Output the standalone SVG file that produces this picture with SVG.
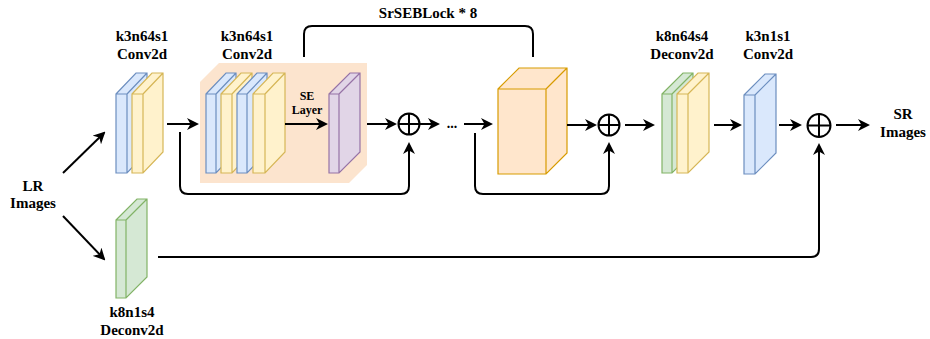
<svg xmlns="http://www.w3.org/2000/svg" width="930" height="339" viewBox="0 0 930 339">
<style>
.t{font-family:'Liberation Serif',serif;font-weight:bold;font-size:15px;fill:#000;text-anchor:middle}
.s{font-size:12px}
.c{fill:none;stroke:#000;stroke-width:2}
.blue{fill:#dae8fc;stroke:#6c8ebf;stroke-width:1.2}
.yel{fill:#fff2cc;stroke:#d6b656;stroke-width:1.2}
.grn{fill:#d5e8d4;stroke:#82b366;stroke-width:1.2}
.pur{fill:#e1d5e7;stroke:#9673a6;stroke-width:1.2}
.org{fill:#ffe6cc;stroke:#d79b00;stroke-width:1.2}
</style>
<defs>
<marker id="a" viewBox="0 0 12 12" refX="10" refY="6" markerWidth="12" markerHeight="12" markerUnits="userSpaceOnUse" orient="auto">
<path d="M0,0 L12,6 L0,12 L3.5,6 z" fill="#000"/>
</marker>
</defs>
<rect width="930" height="339" fill="#fff"/>

<g id="lr-label">
<text class="t" x="33" y="191">LR</text>
<text class="t" x="33" y="208">Images</text>
</g>

<g id="conv1">
<path class="blue" d="M116,94 L136,73 L147,73 L147,152 L127,173 L116,173 Z M116,94 L127,94 L127,173 M127,94 L147,73"/>
<path class="yel" d="M132,94 L152,73 L163,73 L163,152 L143,173 L132,173 Z M132,94 L143,94 L143,173 M143,94 L163,73"/>
<text class="t" x="142" y="40.5">k3n64s1</text>
<text class="t" x="142" y="58.5">Conv2d</text>
</g>

<g id="seblock">
<path d="M200,82 L219,63 L367,63 L367,165 L349,183 L200,183 Z" fill="#fce4ce"/>
<path class="blue" d="M206,94 L226,73 L236,73 L236,152 L216,173 L206,173 Z M206,94 L216,94 L216,173 M216,94 L236,73"/>
<path class="yel" d="M221,94 L241,73 L252,73 L252,152 L232,173 L221,173 Z M221,94 L232,94 L232,173 M232,94 L252,73"/>
<path class="blue" d="M237,94 L257,73 L267,73 L267,152 L247,173 L237,173 Z M237,94 L247,94 L247,173 M247,94 L267,73"/>
<path class="yel" d="M253,94 L273,73 L285,73 L285,152 L265,173 L253,173 Z M253,94 L265,94 L265,173 M265,94 L285,73"/>
<path class="pur" d="M329,94 L350,73 L360,73 L360,152 L339,173 L329,173 Z M329,94 L339,94 L339,173 M339,94 L360,73"/>
<text class="t" x="247" y="40.5">k3n64s1</text>
<text class="t" x="247" y="58.5">Conv2d</text>
<text class="t s" x="307" y="100">SE</text>
<text class="t s" x="307" y="114">Layer</text>
</g>

<g id="sum1">
<circle cx="409" cy="124" r="10.5" fill="#fff" stroke="#000" stroke-width="2"/>
<path d="M398.5,124 H419.5 M409,113.5 V134.5" stroke="#000" stroke-width="2"/>
</g>

<g id="dots">
<text class="t" x="452" y="128" style="font-size:14px">...</text>
</g>

<g id="cube">
<path class="org" d="M498,89 L519,68 L567,68 L567,153 L546,174 L498,174 Z M498,89 L546,89 L546,174 M546,89 L567,68"/>
<text class="t" x="428" y="18">SrSEBLock * 8</text>
</g>

<g id="sum2">
<circle cx="609" cy="125" r="10.5" fill="#fff" stroke="#000" stroke-width="2"/>
<path d="M598.5,125 H619.5 M609,114.5 V135.5" stroke="#000" stroke-width="2"/>
</g>

<g id="deconv">
<path class="grn" d="M662,94 L683,73 L693,73 L693,152 L672,173 L662,173 Z M662,94 L672,94 L672,173 M672,94 L693,73"/>
<path class="yel" d="M677,94 L698,73 L709,73 L709,152 L688,173 L677,173 Z M677,94 L688,94 L688,173 M688,94 L709,73"/>
<text class="t" x="682" y="40.5">k8n64s4</text>
<text class="t" x="682" y="59">Deconv2d</text>
</g>

<g id="conv-out">
<path class="blue" d="M744,95 L765,74 L776,74 L776,153 L755,174 L744,174 Z M744,95 L755,95 L755,174 M755,95 L776,74"/>
<text class="t" x="768" y="40.5">k3n1s1</text>
<text class="t" x="768" y="59">Conv2d</text>
</g>

<g id="sum3">
<circle cx="819" cy="125.5" r="11.5" fill="#fff" stroke="#000" stroke-width="2"/>
<path d="M807.5,125.5 H830.5 M819,114 V137" stroke="#000" stroke-width="2"/>
</g>

<g id="sr-label">
<text class="t" x="903" y="119">SR</text>
<text class="t" x="903" y="137">Images</text>
</g>

<g id="deconv-bottom">
<path class="grn" d="M116,220 L137,199 L147,199 L147,277 L126,298 L116,298 Z M116,220 L126,220 L126,298 M126,220 L147,199"/>
<text class="t" x="132" y="316.5">k8n1s4</text>
<text class="t" x="132" y="335">Deconv2d</text>
</g>

<g id="connectors">
<path class="c" d="M63,173 L104,133" marker-end="url(#a)"/>
<path class="c" d="M63,216 L104,259" marker-end="url(#a)"/>
<path class="c" d="M167,124 L197,124" marker-end="url(#a)"/>
<path class="c" d="M285,124 L326,124" marker-end="url(#a)"/>
<path class="c" d="M367,124 L395,124" marker-end="url(#a)"/>
<path class="c" d="M180,132 L180,186 Q180,194 188,194 L401,194 Q409,194 409,186 L409,144" marker-end="url(#a)"/>
<path class="c" d="M420,124 L438,124" marker-end="url(#a)"/>
<path class="c" d="M464,124 L491,124" marker-end="url(#a)"/>
<path class="c" d="M304,57 L304,34 Q304,26 312,26 L525,26 Q533,26 533,34 L533,57"/>
<path class="c" d="M475,133 L475,186 Q475,194 483,194 L601,194 Q609,194 609,186 L609,144" marker-end="url(#a)"/>
<path class="c" d="M567,125 L595,125" marker-end="url(#a)"/>
<path class="c" d="M625,125 L653,125" marker-end="url(#a)"/>
<path class="c" d="M714,125 L740,125" marker-end="url(#a)"/>
<path class="c" d="M779,125 L800,125" marker-end="url(#a)"/>
<path class="c" d="M836,125 L868,125" marker-end="url(#a)"/>
<path class="c" d="M158,257 L811,257 Q819,257 819,249 L819,145" marker-end="url(#a)"/>
</g>
</svg>
